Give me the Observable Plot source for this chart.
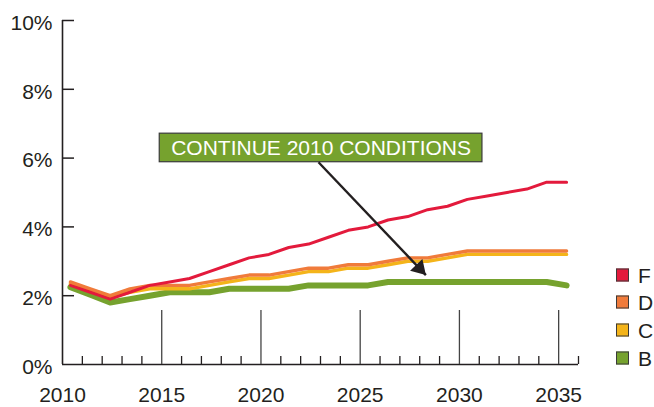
<!DOCTYPE html>
<html>
<head>
<meta charset="utf-8">
<script src="https://cdn.jsdelivr.net/npm/d3@7"></script>
<script src="https://cdn.jsdelivr.net/npm/@observablehq/plot@0.6"></script>
<style>
  html, body { margin: 0; padding: 0; background: #fff; }
  #wrap { position: relative; width: 654px; height: 407px; font-family: "Liberation Sans", Arial, sans-serif; }
  #legend { position: absolute; left: 616px; top: 0; }
  .item { position: absolute; left: 0; display: flex; align-items: center; white-space: nowrap; transform: translateY(-50%); }
  .sw { width: 11px; height: 11px; border: 1px solid #3a3a3a; box-sizing: content-box; }
  .lab { margin-left: 9px; font-size: 21px; line-height: 21px; color: #231f20; }
</style>
</head>
<body>
<div id="wrap"><div id="legend"></div></div>
<script>
// ---- data ----
const years = [2010, 2011, 2012, 2013, 2014, 2015, 2016, 2017, 2018, 2019, 2020, 2021, 2022,
               2023, 2024, 2025, 2026, 2027, 2028, 2029, 2030, 2031, 2032, 2033, 2034, 2035];
const seriesF = [2.3, 2.1, 1.9, 2.1, 2.3, 2.4, 2.5, 2.7, 2.9, 3.1, 3.2, 3.4, 3.5,
                 3.7, 3.9, 4.0, 4.2, 4.3, 4.5, 4.6, 4.8, 4.9, 5.0, 5.1, 5.3, 5.3];
const seriesD = [2.4, 2.2, 2.0, 2.2, 2.3, 2.3, 2.3, 2.4, 2.5, 2.6, 2.6, 2.7, 2.8,
                 2.8, 2.9, 2.9, 3.0, 3.1, 3.1, 3.2, 3.3, 3.3, 3.3, 3.3, 3.3, 3.3];
const seriesC = [2.35, 2.15, 1.95, 2.1, 2.2, 2.2, 2.2, 2.3, 2.4, 2.5, 2.5, 2.6, 2.7,
                 2.7, 2.8, 2.8, 2.9, 3.0, 3.0, 3.1, 3.2, 3.2, 3.2, 3.2, 3.2, 3.2];
const seriesB = [2.25, 2.03, 1.8, 1.9, 2.0, 2.1, 2.1, 2.1, 2.2, 2.2, 2.2, 2.2, 2.3,
                 2.3, 2.3, 2.3, 2.4, 2.4, 2.4, 2.4, 2.4, 2.4, 2.4, 2.4, 2.4, 2.3];
const seriesNames = ["F", "D", "C", "B"];
const xTickLabels = [2010, 2015, 2020, 2025, 2030, 2035];
const majorTicks = [2015, 2020, 2025, 2030, 2035];
const minorTicks = [2011, 2012, 2013, 2014, 2016, 2017, 2018, 2019, 2021, 2022, 2023, 2024,
                    2026, 2027, 2028, 2029, 2031, 2032, 2033, 2034, 2036];
const yTicks = [0, 2, 4, 6, 8, 10];
const noteLabel = ["CONTINUE 2010 CONDITIONS"];
// annotation placement in data units (year, percent)
const noteBox = [{x1: 2014.90, x2: 2031.16, y1: 5.88, y2: 6.71}];
const noteArrow = [{x1: 2022.90, y1: 5.88, x2: 2028.31, y2: 2.60}];

// ---- styles ----
const ink = "#231f20";
const colors = {F: "#e31a3c", D: "#f07b3b", C: "#f4b41a", B: "#76a22e"};
const widths = {F: 3, D: 3.4, C: 3.4, B: 6};
const drawOrder = ["B", "C", "D", "F"];
const valuesOf = {F: seriesF, D: seriesD, C: seriesC, B: seriesB};
const xShift = 0.4; // values plotted within each year

const W = 654, H = 407, mL = 62, mR = 76, mT = 20, mB = 43;
const xDomain = [2010, 2036], yDomain = [0, 10];
const xs = d3.scaleLinear(xDomain, [mL, W - mR]);
const ys = d3.scaleLinear(yDomain, [H - mB, mT]);
const a0 = noteArrow[0];
const headAngle = Math.atan2(xs(a0.x2) - xs(a0.x1), -(ys(a0.y2) - ys(a0.y1))) * 180 / Math.PI;
const headSymbol = {draw(ctx) { ctx.moveTo(0, 0); ctx.lineTo(-8.5, 14); ctx.lineTo(8.5, 14); ctx.closePath(); }};

const lineMarks = drawOrder.map(k => Plot.line(
  years.map((yr, i) => ({year: yr, value: valuesOf[k][i]})),
  {x: d => d.year + xShift, y: "value", stroke: colors[k], strokeWidth: widths[k],
   strokeLinejoin: "round", strokeLinecap: "round"}
));

const plot = Plot.plot({
  width: W, height: H,
  marginLeft: mL, marginRight: mR, marginTop: mT, marginBottom: mB,
  style: {fontFamily: "'Liberation Sans', Arial, sans-serif", fontSize: "21px", color: ink, background: "#fff", overflow: "visible"},
  x: {domain: xDomain},
  y: {domain: yDomain},
  marks: [
    Plot.axisX(xTickLabels, {tickSize: 0, tickPadding: 23, tickFormat: d => String(d), fontSize: 21, fill: ink, label: null}),
    Plot.axisY(yTicks, {tickSize: 0, tickPadding: 10, tickFormat: d => d + "%", fontSize: 21, fill: ink, dy: 2.5, label: null}),
    Plot.ruleY([0], {stroke: ink, strokeWidth: 1.6}),
    Plot.ruleX([2010], {stroke: ink, strokeWidth: 1.6}),
    Plot.ruleX(minorTicks, {x: d => d, y1: 0, y2: 0, insetTop: -8, stroke: ink, strokeWidth: 1.3}),
    Plot.ruleX(majorTicks, {x: d => d, y1: 0, y2: 0, insetTop: -54, stroke: "#444", strokeWidth: 1.3}),
    Plot.ruleY(yTicks.filter(d => d > 0), {y: d => d, x1: 2010, x2: 2010, insetRight: -12, stroke: ink, strokeWidth: 1.5}),
    ...lineMarks,
    Plot.rect(noteBox, {x1: "x1", x2: "x2", y1: "y1", y2: "y2", fill: "#76a22e", stroke: "#3a3a3a", strokeWidth: 1.2}),
    Plot.text(noteLabel, {x: () => (noteBox[0].x1 + noteBox[0].x2) / 2, y: () => (noteBox[0].y1 + noteBox[0].y2) / 2,
      text: d => d, fill: "#fff", fontSize: 21, textAnchor: "middle", lineAnchor: "middle"}),
    Plot.link(noteArrow, {x1: "x1", y1: "y1", x2: "x2", y2: "y2", stroke: ink, strokeWidth: 2.4}),
    Plot.dot(noteArrow, {x: "x2", y: "y2", symbol: headSymbol, fill: ink, stroke: null, rotate: headAngle})
  ]
});
document.getElementById("wrap").prepend(plot);

// legend (beside the chart)
const legend = document.getElementById("legend");
seriesNames.forEach((k, i) => {
  const item = document.createElement("div");
  item.className = "item";
  item.style.top = (274.5 + i * 27.8) + "px";
  const sw = document.createElement("div");
  sw.className = "sw";
  sw.style.background = colors[k];
  const lab = document.createElement("span");
  lab.className = "lab";
  lab.textContent = k;
  item.append(sw, lab);
  legend.append(item);
});
</script>
</body>
</html>
